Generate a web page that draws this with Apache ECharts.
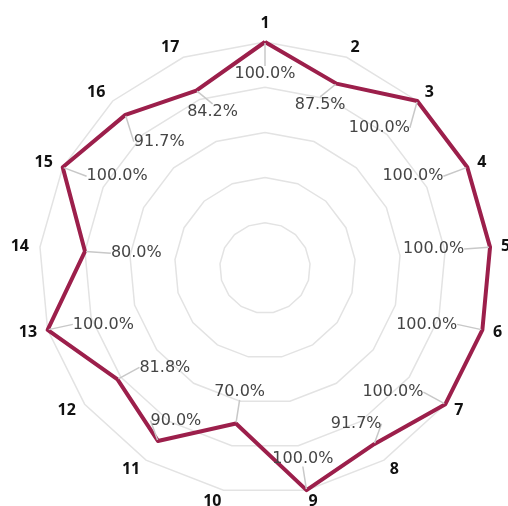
<!DOCTYPE html>
<html><head><meta charset="utf-8">
<script src="https://cdn.jsdelivr.net/npm/echarts@6/dist/echarts.min.js"></script>
<style>html,body{margin:0;padding:0;background:#fff}#c{width:508px;height:506px}</style>
</head><body><div id="c"></div>
<script>
const categories = ['1','2','3','4','5','6','7','8','9','10','11','12','13','14','15','16','17'];
const values = [100, 87.5, 100, 100, 100, 100, 100, 91.7, 100, 70, 90, 81.8, 100, 80, 100, 91.7, 84.2];
const axisMin = 0;
const axisMax = 100;
const ringCount = 5;

// clockwise ordering starting at the top
const order = [0].concat(categories.map((_, i) => i).slice(1).reverse());
const CX = 265, CY = 268;

const chart = echarts.init(document.getElementById('c'), null, {renderer: 'canvas'});
chart.setOption({
  animation: false,
  radar: {
    center: [CX, CY],
    radius: 226,
    startAngle: 90,
    splitNumber: ringCount,
    shape: 'polygon',
    indicator: order.map(i => ({name: categories[i], min: axisMin, max: axisMax})),
    axisName: {color: '#111', fontWeight: 'bold', fontSize: 16, fontFamily: 'Open Sans'},
    nameGap: 11,
    splitLine: {lineStyle: {color: '#e3e3e3', width: 1.5}},
    splitArea: {show: false},
    axisLine: {show: false},
    axisTick: {show: false},
    axisLabel: {show: false}
  },
  series: [{
    type: 'radar',
    symbol: 'circle',
    symbolSize: 2,
    itemStyle: {color: '#9c1f4b'},
    lineStyle: {color: '#9c1f4b', width: 4},
    data: [{value: order.map(i => values[i])}],
    label: {
      show: true,
      formatter: p => Number(p.value).toFixed(1) + '%',
      fontFamily: 'DejaVu Sans', fontSize: 16, color: '#454545'
    },
    labelLine: {show: true, lineStyle: {color: '#c8c8c8', width: 1.5}},
    labelLayout: function (p) {
      const r = p.rect;
      const px = r.x + r.width / 2, py = r.y + r.height / 2;
      let ux = CX - px, uy = CY - py;
      const L = Math.hypot(ux, uy) || 1; ux /= L; uy /= L;
      const w = p.labelRect.width, h = p.labelRect.height;
      const ax = Math.abs(ux), sx = Math.sign(ux), sy = Math.sign(uy);
      let x, y;
      if (ax > 0.75) {
        x = px + ux * 20 + sx * (w / 2 + 6); y = py + uy * 20;
      } else if (ax > 0.55) {
        x = px + ux * 20 + sx * w * 0.4; y = py + uy * 20 + sy * (h / 2 + 4);
      } else if (ax >= 0.25) {
        x = px + ux * 10 + sx * w * 0.25; y = py + uy * 10 + sy * (h / 2 + 4);
      } else {
        x = px + ux * 20; y = py + uy * 20 + sy * (h / 2 + 4);
      }
      return {x: x, y: y, align: 'center', verticalAlign: 'middle'};
    }
  }]
});
</script></body></html>
